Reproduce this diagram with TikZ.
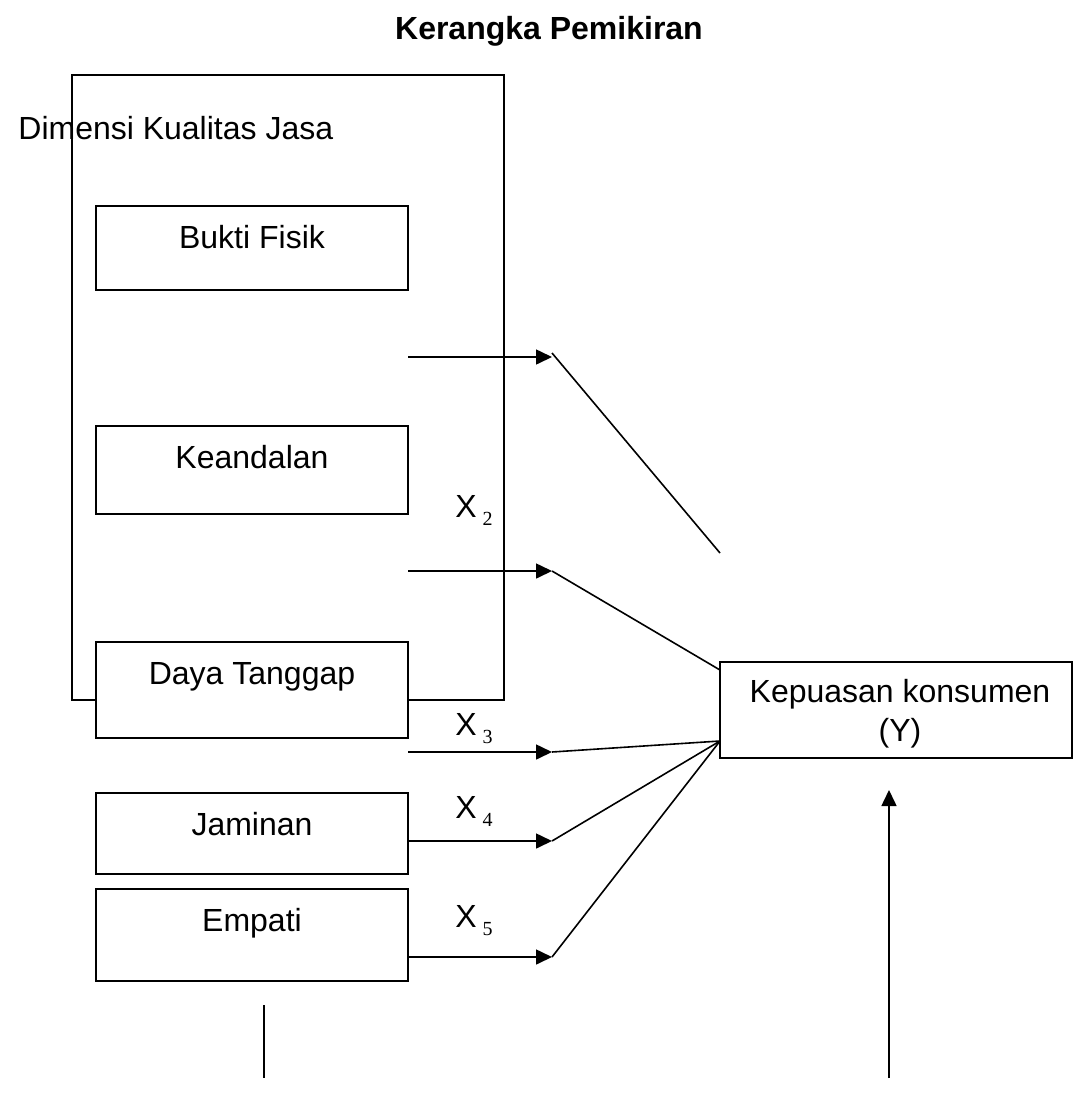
\documentclass[tikz,border=0pt]{standalone}
\usepackage{fontspec}
\setmainfont{Liberation Sans}
\newfontfamily\subfont{Liberation Serif}
\usetikzlibrary{positioning,arrows.meta}
\newcommand{\xlab}[1]{X\kern3pt\raisebox{-4pt}{\subfont\fontsize{10}{12}\selectfont #1}}

\begin{document}
\begin{tikzpicture}[x=0.5pt, y=-0.5pt, node distance=2cm,
	every node/.style={font=\fontsize{16}{19.5}\selectfont},
	box/.style={rectangle, draw, fill=white, line width=0.8pt, inner sep=0pt, outer sep=0pt, minimum width=156pt, text height=21pt, anchor=north},
	lbl/.style={anchor=base west, inner sep=0pt},
	arr/.style={-{Triangle[length=8pt, width=7.5pt]}, line width=0.8pt},
	ln/.style={line width=0.8pt}]
	\useasboundingbox (0,0) rectangle (1073,1093);

	\node[font=\bfseries\fontsize{16}{19.5}\selectfont, anchor=base] (title) at (549,39) {Kerangka Pemikiran};

	\node[rectangle, draw, line width=0.8pt, inner sep=0pt, minimum width=216pt, minimum height=312.5pt] (dimensi) at (288,387.5) {};
	\node[lbl] (dimlab) at (18,139) {Dimensi Kualitas Jasa};

	\node[box, text depth=21pt] (bukti) at (252,206) {Bukti Fisik};
	\node[box, text depth=23pt, below=68pt of bukti] (andal) {Keandalan};
	\node[box, text depth=27pt, below=64pt of andal] (tanggap) {Daya Tanggap};
	\node[box, text depth=19.5pt, below=27.5pt of tanggap] (jaminan) {Jaminan};
	\node[box, text depth=25pt, below=7.5pt of jaminan] (empati) {Empati};

	\node[rectangle, draw, line width=0.8pt, inner sep=0pt, minimum width=176pt, minimum height=48pt] (puas) at (896,710) {};
	\node[align=center, inner sep=0pt] (puaslab) at (900,714) {Kepuasan konsumen\\(Y)};

	\node[lbl] (x2) at (455,517) {\xlab{2}};
	\node[lbl] (x3) at (455,735) {\xlab{3}};
	\node[lbl] (x4) at (455,818) {\xlab{4}};
	\node[lbl] (x5) at (455,927) {\xlab{5}};

	\coordinate (p1) at (552,357);
	\coordinate (p2) at (552,571);
	\coordinate (p3) at (552,752);
	\coordinate (p4) at (552,841);
	\coordinate (p5) at (552,957);
	\coordinate (q1) at (720,553);
	\coordinate (q2) at (720,670);
	\coordinate (hub) at (720,741);
	\coordinate (v1) at (264,1005);
	\coordinate (v2) at (264,1078);
	\coordinate (u1) at (889,1078);
	\coordinate (u2) at (889,790);

	\draw[arr] (bukti.east |- p1) -- (p1);
	\draw[arr] (andal.east |- p2) -- (p2);
	\draw[arr] (tanggap.east |- p3) -- (p3);
	\draw[arr] (jaminan.east |- p4) -- (p4);
	\draw[arr] (empati.east |- p5) -- (p5);

	\draw[ln] (p1) ++(0,-4) -- (q1);
	\draw[ln] (p2) -- (q2);
	\draw[ln] (p3) -- (hub);
	\draw[ln] (p4) -- (hub);
	\draw[ln] (p5) -- (hub);

	\draw[ln] (v1) -- (v2);
	\draw[arr] (u1) -- (u2);
\end{tikzpicture}
\end{document}
